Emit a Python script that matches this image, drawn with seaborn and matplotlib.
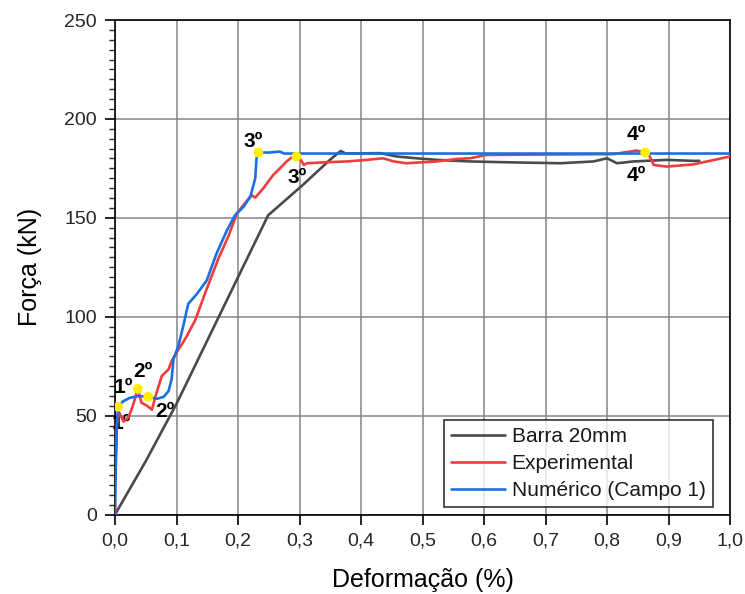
import numpy as np
import pandas as pd
import matplotlib
matplotlib.use("Agg")
import matplotlib.pyplot as plt
import seaborn as sns
from matplotlib.ticker import MultipleLocator, FuncFormatter

# =====================================
# Data
# =====================================

barra_x = [0, 0.05, 0.1, 0.15, 0.2, 0.249, 0.306, 0.35, 0.367, 0.375, 0.431,
           0.458, 0.49, 0.523, 0.577, 0.65, 0.724, 0.778, 0.8, 0.816, 0.843,
           0.897, 0.94, 0.95]
barra_y = [0, 27, 56, 88, 120, 151.3, 166.8, 179.5, 183.8, 182.5, 182.7,
           181, 180.1, 179.3, 178.5, 178, 177.6, 178.5, 180.1, 177.6, 178.5,
           179.3, 178.8, 178.8]

exp_x = [0, 0.0, 0.003, 0.006, 0.014, 0.022, 0.03, 0.037, 0.043, 0.052, 0.06,
         0.066, 0.076, 0.087, 0.092, 0.1, 0.114, 0.13, 0.149, 0.168, 0.185,
         0.198, 0.211, 0.222, 0.228, 0.241, 0.257, 0.271, 0.279, 0.287, 0.295,
         0.302, 0.307, 0.312, 0.344, 0.377, 0.409, 0.436, 0.453, 0.474, 0.501,
         0.523, 0.556, 0.577, 0.604, 0.7, 0.81, 0.848, 0.863, 0.868, 0.876,
         0.897, 0.94, 0.967, 1.0]
exp_y = [0, 20, 45, 52, 47, 49, 56, 63.5, 56.5, 55, 53, 60, 70, 73.4, 77.6,
         81.9, 88.7, 98, 114, 129.3, 141.2, 152.2, 157.3, 161.5, 160.2, 164.9,
         171.6, 175.9, 178.5, 180.5, 181, 179.3, 176.7, 177.6, 178.1, 178.5,
         179.3, 180.1, 178.5, 177.6, 178.1, 178.5, 179.8, 180.1, 181.8, 182,
         182.2, 184, 183, 181.8, 176.7, 175.9, 177, 178.8, 181]

num_x = [0, 0.001, 0.003, 0.005, 0.0135, 0.024, 0.038, 0.054, 0.068, 0.079,
         0.087, 0.092, 0.095, 0.103, 0.111, 0.119, 0.133, 0.149, 0.165, 0.182,
         0.195, 0.209, 0.22, 0.228, 0.23, 0.233, 0.25, 0.268, 0.275, 1.0]
num_y = [0, 20, 45, 54.5, 57.3, 59, 59.9, 59.5, 58.5, 59.5, 62.4, 68.3, 78.5,
         85.3, 95.4, 106.5, 111.5, 118.3, 131.9, 143.7, 151.3, 155.6, 160.7,
         170, 180, 183, 183, 183.5, 182.5, 182.5]

# yellow points (stages) and their labels
pts_x = [0.005, 0.037, 0.054, 0.233, 0.295, 0.862]
pts_y = [54.5, 63.5, 59.5, 183, 181, 183]

lbl_text = ["1º", "1º", "2º", "2º", "3º", "3º", "4º", "4º"]
lbl_x = [0.013, 0.011, 0.046, 0.081, 0.225, 0.296, 0.848, 0.848]
lbl_y = [64, 46, 72.5, 52, 188.5, 170.5, 192, 171.5]

# =====================================
# Plot
# =====================================

sns.set_style("ticks")
plt.rcParams['font.family'] = ['Liberation Sans', 'DejaVu Sans']

fig = plt.figure(figsize=(7.45, 5.94), dpi=100)
ax = fig.add_axes([0.1544, 0.1338, 0.8256, 0.8325])

sns.lineplot(x=barra_x, y=barra_y, sort=False, estimator=None, ax=ax,
             color="#4a4a4a", lw=1.9, label="Barra 20mm", zorder=3)
sns.lineplot(x=exp_x, y=exp_y, sort=False, estimator=None, ax=ax,
             color="#f23c3c", lw=1.9, label="Experimental", zorder=4)
sns.lineplot(x=num_x, y=num_y, sort=False, estimator=None, ax=ax,
             color="#1c6fe3", lw=1.9, label="Numérico (Campo 1)", zorder=5)

sns.scatterplot(x=pts_x, y=pts_y, ax=ax, color="#ffee00", s=50,
                edgecolor="none", zorder=6, legend=False)

for t, x, y in zip(lbl_text, lbl_x, lbl_y):
    ax.text(x, y, t, fontsize=15, fontweight="bold", ha="center",
            va="center", color="black", zorder=2)

ax.set_xlim(0, 1.0)
ax.set_ylim(0, 250)
ax.xaxis.set_major_locator(MultipleLocator(0.1))
ax.yaxis.set_major_locator(MultipleLocator(50))
ax.yaxis.set_minor_locator(MultipleLocator(5))
ax.xaxis.set_major_formatter(FuncFormatter(lambda v, p: f"{v:.1f}".replace(".", ",")))

ax.grid(True, which="major", color="#858585", lw=1.1)
ax.set_axisbelow(True)
for s in ax.spines.values():
    s.set_visible(True)
    s.set_color("black")
    s.set_linewidth(1.2)

ax.tick_params(axis="both", which="major", direction="out", length=7,
               width=1.2, labelsize=14, colors="black", labelcolor="#262626",
               pad=6)
ax.tick_params(axis="y", which="minor", direction="out", length=4, width=1.0)

ax.set_xlabel("Deformação (%)", fontsize=18, labelpad=13, color="black")
ax.set_ylabel("Força (kN)", fontsize=18, labelpad=16, color="black")

leg = ax.legend(loc="lower right", bbox_to_anchor=(0.972, 0.015), fontsize=15,
                frameon=True, fancybox=False, edgecolor="black",
                handlelength=2.6, borderpad=0.35, labelspacing=0.38,
                handletextpad=0.3, borderaxespad=0)
leg.get_frame().set_linewidth(1.2)
for txt in leg.get_texts():
    txt.set_color("#1a1a1a")

fig.savefig("out.png", dpi=100)
